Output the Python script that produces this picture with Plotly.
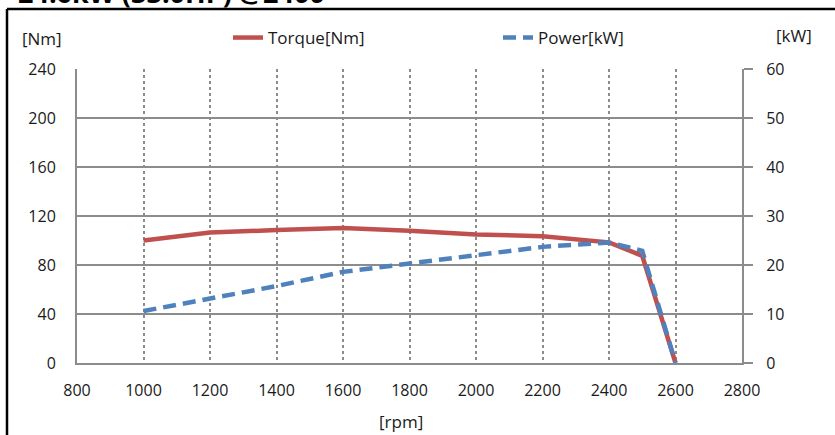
import plotly.graph_objects as go

rpm = [1000, 1200, 1400, 1600, 1800, 2000, 2200, 2400, 2500, 2600]
torque_nm = [100, 106.5, 108.5, 110.3, 108, 105, 103.5, 98.5, 87.5, 0]
power_kw = [10.6, 13.2, 15.7, 18.6, 20.3, 22.0, 23.7, 24.6, 22.9, 0]

x_ticks = list(range(800, 2801, 200))
y_left_ticks = list(range(0, 241, 40))
y_right_ticks = list(range(0, 61, 10))

title_text = "24.6kW (33.0HP) @2400"
FONT = "Open Sans"
GRID = "#8c8c8c"

W, H = 835, 435
L, R, T, B = 77, 93, 69, 72
pw, ph = W - L - R, H - T - B


def px_x(p):
    return (p - L) / pw


def px_y(p):
    return (H - B - p) / ph


fig = go.Figure()
fig.add_trace(go.Scatter(
    x=rpm, y=torque_nm, name="Torque[Nm]", mode="lines",
    line=dict(color="#C0504D", width=4.5), yaxis="y"))
fig.add_trace(go.Scatter(
    x=rpm, y=power_kw, name="Power[kW]", mode="lines",
    line=dict(color="#4F81BD", width=4.5, dash="13px,7px"), yaxis="y2"))

fig.update_layout(
    width=W, height=H,
    margin=dict(l=L, r=R, t=T, b=B, pad=0),
    paper_bgcolor="white", plot_bgcolor="white",
    font=dict(family=FONT, size=16, color="#1a1a1a"),
    xaxis=dict(range=[800, 2800], tickvals=x_ticks, showgrid=True,
               gridcolor=GRID, griddash="dot", gridwidth=1.5,
               showline=True, linecolor=GRID, linewidth=2,
               ticks="", ticklabelstandoff=12, zeroline=False),
    yaxis=dict(range=[0, 240], tickvals=y_left_ticks, showgrid=True,
               gridcolor=GRID, gridwidth=1.5, showline=True,
               linecolor=GRID, linewidth=2, ticks="",
               ticklabelstandoff=16, zeroline=False),
    yaxis2=dict(range=[0, 60], tickvals=y_right_ticks, overlaying="y",
                side="right", showgrid=False, showline=True,
                linecolor=GRID, linewidth=2, ticks="outside",
                ticklen=9, tickcolor=GRID, tickwidth=1.5,
                ticklabelstandoff=10, zeroline=False),
    legend=dict(orientation="h", x=px_x(228), y=px_y(38), yanchor="middle",
                xanchor="left", entrywidth=225, entrywidthmode="pixels",
                bgcolor="rgba(0,0,0,0)", font=dict(size=17)),
    showlegend=True,
)

fig.add_annotation(text="[Nm]", xref="paper", yref="paper", x=px_x(20),
                   y=px_y(38), xanchor="left", yanchor="middle",
                   showarrow=False, font=dict(size=17))
fig.add_annotation(text="[kW]", xref="paper", yref="paper", x=px_x(774),
                   y=px_y(35), xanchor="left", yanchor="middle",
                   showarrow=False, font=dict(size=17))
fig.add_annotation(text="[rpm]", xref="paper", yref="paper", x=px_x(401),
                   y=px_y(421), xanchor="center", yanchor="middle",
                   showarrow=False, font=dict(size=17))
fig.add_annotation(text="<b>" + title_text + "</b>", xref="paper",
                   yref="paper", x=px_x(16), y=px_y(13), xanchor="left",
                   yanchor="bottom", showarrow=False,
                   font=dict(size=27, color="black"))

# outer frame (top and left edges visible)
fig.add_shape(type="line", xref="paper", yref="paper", x0=px_x(7),
              x1=px_x(W + 5), y0=px_y(9), y1=px_y(9),
              line=dict(color="black", width=2.5))
fig.add_shape(type="line", xref="paper", yref="paper", x0=px_x(7),
              x1=px_x(7), y0=px_y(9), y1=px_y(H + 5),
              line=dict(color="black", width=2.5))

fig.write_html("out.html", config={"displayModeBar": False},
               post_script="document.body.style.margin='0';")
